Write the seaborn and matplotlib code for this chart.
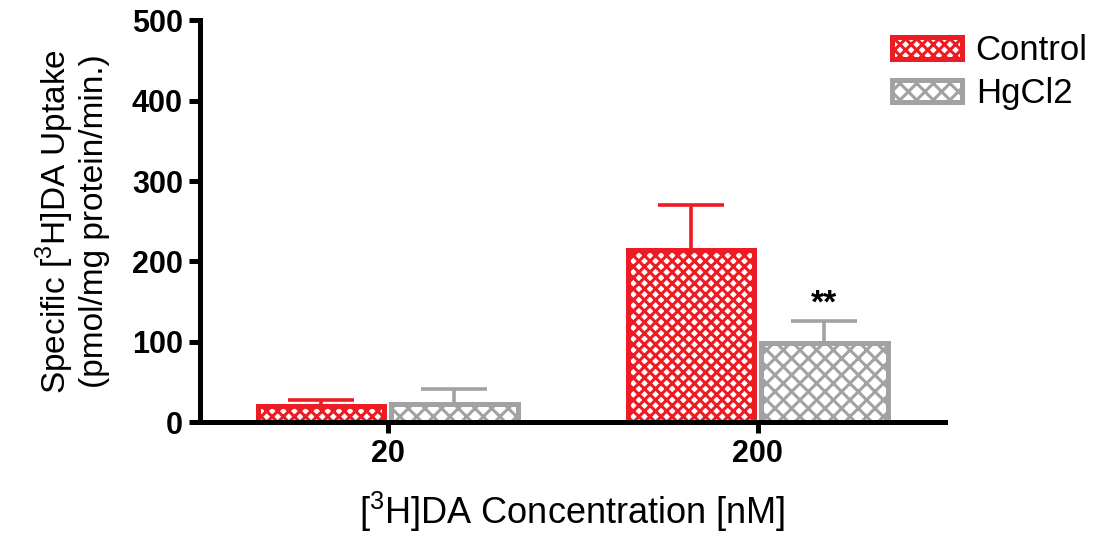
import numpy as np
import pandas as pd
import matplotlib
matplotlib.use("Agg")
import matplotlib.pyplot as plt
import seaborn as sns

# data
concentrations = ["20", "200"]
groups = ["Control", "HgCl2"]
control_mean = [20, 214]
control_sem = [7, 56]
hgcl2_mean = [23, 98]
hgcl2_sem = [18, 28]

colors = {"Control": "#ed1c24", "HgCl2": "#a2a2a5"}
hatches = {"Control": "xxx", "HgCl2": "xx"}

df = pd.DataFrame({
    "conc": concentrations * 2,
    "group": ["Control"] * 2 + ["HgCl2"] * 2,
    "value": control_mean + hgcl2_mean,
})
errs = {"Control": control_sem, "HgCl2": hgcl2_sem}

sns.set_style("ticks", {"axes.edgecolor": "black", "xtick.color": "black",
                        "ytick.color": "black", "text.color": "black",
                        "axes.labelcolor": "black"})
plt.rcParams["font.family"] = ["Liberation Sans", "DejaVu Sans"]
plt.rcParams["mathtext.fontset"] = "custom"
plt.rcParams["mathtext.rm"] = "Liberation Sans"
plt.rcParams["hatch.linewidth"] = 2.2

fig = plt.figure(figsize=(10.97, 5.33), dpi=100)
ax = fig.add_axes([0.182, 0.208, 0.679, 0.754])

sns.barplot(data=df, x="conc", y="value", hue="group", order=concentrations,
            hue_order=groups, palette=colors, errorbar=None, width=0.72,
            gap=0.05, legend=False, ax=ax)

# bars: white face, coloured outline and hatch, upper error bars only
for cont, g in zip(ax.containers, groups):
    xs, ys = [], []
    for p in cont.patches:
        p.set_facecolor("white")
        p.set_edgecolor(colors[g])
        p.set_linewidth(3.6)
        p.set_hatch(hatches[g])
        xs.append(p.get_x() + p.get_width() / 2)
        ys.append(p.get_height())
    ax.errorbar(xs, ys, yerr=[np.zeros(len(ys)), errs[g]], fmt="none",
                ecolor=colors[g], elinewidth=2.6, capsize=24, capthick=2.6,
                zorder=1)

# significance mark
hg = ax.containers[1].patches[1]
ax.text(hg.get_x() + hg.get_width() / 2, hgcl2_mean[1] + hgcl2_sem[1] + 1, "**",
        ha="center", va="bottom", fontsize=24, fontweight="bold")

ax.set_ylim(0, 500)
ax.set_yticks([0, 100, 200, 300, 400, 500])
ax.set_xlim(-0.508, 1.505)
sns.despine(ax=ax)
for s in ["left", "bottom"]:
    ax.spines[s].set_linewidth(3.6)
ax.tick_params(axis="both", direction="out", length=8, width=3.6, pad=4)
for lab in ax.get_xticklabels() + ax.get_yticklabels():
    lab.set_fontsize(22)
    lab.set_fontweight("bold")

ax.set_xlabel(r"[$^{3}$H]DA Concentration [nM]", fontsize=26, labelpad=15)
ax.set_ylabel("Specific [$^{3}$H]DA Uptake\n(pmol/mg protein/min.)",
              fontsize=24, labelpad=16, linespacing=1.1)

ax.legend(ax.containers, groups, loc="upper right", frameon=False,
          bbox_to_anchor=(1.02, 0.995), bbox_transform=fig.transFigure,
          fontsize=25, handlelength=2.0, handleheight=0.6, handletextpad=0.4,
          labelspacing=0.3)

fig.savefig("out.png", dpi=100)
